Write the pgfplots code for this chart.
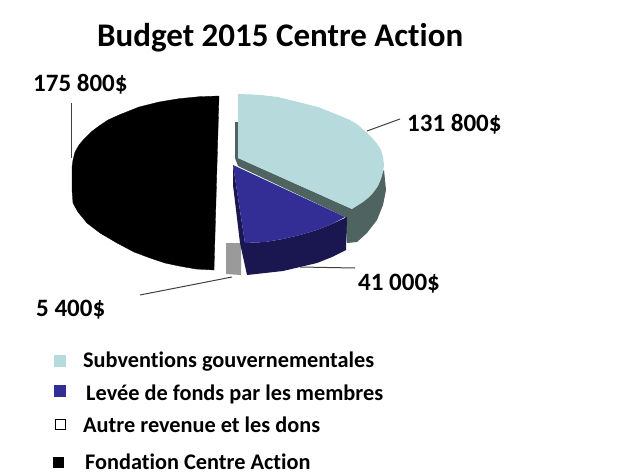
\documentclass[border=0pt]{standalone}
\usepackage{fontspec}
\setmainfont[Ligatures=NoCommon]{Carlito}
\usepackage{pgfplots}
\pgfplotsset{compat=1.18}
\definecolor{lb}{HTML}{B7DADC}
\definecolor{lbside}{HTML}{4F6460}
\definecolor{bl}{HTML}{332E96}
\definecolor{blside}{HTML}{1A1650}
\definecolor{gr}{HTML}{9A9A9A}
\definecolor{ln}{HTML}{404040}
\begin{document}
\begin{tikzpicture}
\path[use as bounding box] (0,0) rectangle (628pt,474pt);
\begin{axis}[
  at={(0,0)}, anchor=south west,
  width=628pt, height=474pt, scale only axis,
  xmin=0, xmax=628, ymin=0, ymax=474, y dir=reverse,
  hide axis, clip=false,
  every axis plot/.append style={forget plot},
  nodes={inner sep=0pt, anchor=west, font=\bfseries, text=black},
]
% black slice
\addplot[fill=black, draw=black, line width=0.3pt] coordinates {
 (219,96) (199,96.7) (179,98.7) (159,102) (139,107) (119,115) (108,120) (99,126) (91,132) (84,139) (79,145) (75,152) (73,160) (72,167)
 (72,190) (73,203) (78,212) (87,223) (100,233) (117,243) (134,252) (150,258) (165,263) (179,266) (196,269) (214,270)} --cycle;
% grey slice
\addplot[fill=gr, draw=none] coordinates {(226,243) (241,243) (241,275) (226,274)} --cycle;
% light blue side and cut face
\addplot[fill=lbside, draw=none] coordinates {
 (384,170) (386,190) (383,205) (377,220) (367,233) (357,242) (347,243) (345,217) (238,166) (235,158) (235,122) (238,122) (238,158) (352,209)} --cycle;
% light blue top
\addplot[fill=lb, draw=none] coordinates {
 (238,94) (258,94.7) (278,97) (298,102) (318,107) (338,115) (350,120) (358,125) (366,132) (373,139) (378,145) (381,150) (383,157) (384,165) (383,172) (381,179) (378,186) (373,193) (368,198) (363,202) (352,209) (238,158)} --cycle;
% blue side
\addplot[fill=blside, draw=none] coordinates {
 (233,165) (245,243) (265,242) (283,239) (300,235) (317,230) (332,224) (347,217) (346,250) (332,257) (317,263) (300,267) (283,271) (265,273) (247,275) (240,243) (233,185)} --cycle;
% blue top
\addplot[fill=bl, draw=none] coordinates {
 (233,165) (345,217) (332,224) (317,230) (300,235) (283,239) (265,242) (245,243)} --cycle;
% leader lines
\addplot[ln, line width=1pt] coordinates {(71,103) (71,158)};
\addplot[ln, line width=1pt] coordinates {(367,131) (400,119)};
\addplot[ln, line width=1pt] coordinates {(300,267) (355,268)};
\addplot[ln, line width=1pt] coordinates {(140,295) (232,277)};
% legend markers
\addplot[only marks, mark=square*, mark size=5.5pt, mark options={fill=lb, draw=lb}] coordinates {(60,361)};
\addplot[only marks, mark=square*, mark size=5.5pt, mark options={fill=bl, draw=bl}] coordinates {(60,391)};
\addplot[only marks, mark=square*, mark size=5pt, mark options={fill=white, draw=black, line width=0.7pt}] coordinates {(60,424)};
\addplot[only marks, mark=square*, mark size=5pt, mark options={fill=black, draw=black}] coordinates {(58,462)};
% text
\node[font=\bfseries\fontsize{33}{33}\selectfont] at (axis cs:97,38) {Budget 2015 Centre Action};
\node[font=\bfseries\fontsize{25}{25}\selectfont] at (axis cs:33,84) {175 800\$};
\node[font=\bfseries\fontsize{25}{25}\selectfont] at (axis cs:407,124) {131 800\$};
\node[font=\bfseries\fontsize{25}{25}\selectfont] at (axis cs:358,284) {41 000\$};
\node[font=\bfseries\fontsize{25}{25}\selectfont] at (axis cs:36,310) {5 400\$};
\node[font=\bfseries\fontsize{22.3}{22.3}\selectfont] at (axis cs:83,362) {Subventions gouvernementales};
\node[font=\bfseries\fontsize{22.3}{22.3}\selectfont] at (axis cs:86,394) {Levée de fonds par les membres};
\node[font=\bfseries\fontsize{22.3}{22.3}\selectfont] at (axis cs:83,425) {Autre revenue et les dons};
\node[font=\bfseries\fontsize{22.3}{22.3}\selectfont] at (axis cs:85,462) {Fondation Centre Action};
\end{axis}
\end{tikzpicture}
\end{document}
